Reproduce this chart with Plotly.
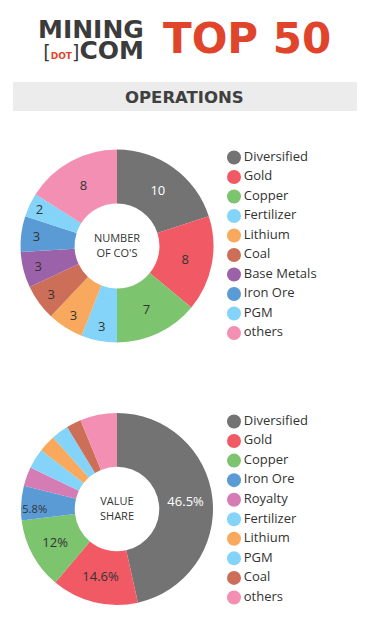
import plotly.graph_objects as go

# ---- data ----
ops_categories = ["Diversified", "Gold", "Copper", "Fertilizer", "Lithium", "Coal",
                  "Base Metals", "Iron Ore", "PGM", "others"]
ops_counts = [10, 8, 7, 3, 3, 3, 3, 3, 2, 8]

val_categories = ["Diversified", "Gold", "Copper", "Iron Ore", "Royalty", "Fertilizer",
                  "Lithium", "PGM", "Coal", "others"]
val_shares = [46.5, 14.6, 12, 5.8, 3.2, 3.4, 2.9, 2.9, 2.5, 6.2]
# slices whose share is printed on the donut
val_labeled = ["Diversified", "Gold", "Copper", "Iron Ore"]

colors = {
    "Diversified": "#737373", "Gold": "#f15a64", "Copper": "#7cc46d",
    "Fertilizer": "#84d4f9", "Lithium": "#f9a95d", "Coal": "#cd6f58",
    "Base Metals": "#9c62a9", "Iron Ore": "#5a9bd5", "PGM": "#84d4f9",
    "others": "#f38fb2", "Royalty": "#d57cb5",
}

W, H = 369, 644
FONT = "Open Sans"
TXT = "#333333"
LOGO_FONT = "DejaVu Sans"


def px_dom_x(a, b):
    return [a / W, b / W]


def px_dom_y(top, bottom):
    return [1 - bottom / H, 1 - top / H]


fig = go.Figure()

# ---- donut 1 ----
fig.add_trace(go.Pie(
    labels=ops_categories, values=ops_counts, sort=False, direction="clockwise",
    hole=0.44, marker=dict(colors=[colors[c] for c in ops_categories], line=dict(width=0)),
    textinfo="value", textposition="inside", insidetextorientation="horizontal",
    textfont=dict(family=FONT, size=13,
                  color=["white" if c == "Diversified" else TXT for c in ops_categories]),
    title=dict(text="NUMBER<br>OF CO'S", position="middle center",
               font=dict(family=FONT, size=11, color=TXT)),
    domain=dict(x=px_dom_x(20.5, 213.5), y=px_dom_y(149.5, 342.5)),
    showlegend=False, hoverinfo="label+value",
))

# ---- donut 2 ----
val_text = [f"{v:g}%" if c in val_labeled else "" for c, v in zip(val_categories, val_shares)]
fig.add_trace(go.Pie(
    labels=val_categories, values=val_shares, sort=False, direction="clockwise",
    hole=0.44, marker=dict(colors=[colors[c] for c in val_categories], line=dict(width=0)),
    text=val_text, textinfo="text", textposition="inside", insidetextorientation="horizontal",
    textfont=dict(family=FONT, size=13,
                  color=["white" if c == "Diversified" else TXT for c in val_categories]),
    title=dict(text="VALUE<br>SHARE", position="middle center",
               font=dict(family=FONT, size=11, color=TXT)),
    domain=dict(x=px_dom_x(21, 213), y=px_dom_y(413, 605)),
    showlegend=False, hoverinfo="label+value",
))

# ---- legends (circle markers) ----
def add_legend(cats, y0, step):
    ys = [y0 + i * step for i in range(len(cats))]
    fig.add_trace(go.Scatter(
        x=[234] * len(cats), y=ys, mode="markers+text",
        marker=dict(symbol="circle", size=14, color=[colors[c] for c in cats], line=dict(width=0)),
        text=cats, textposition="middle right",
        textfont=dict(family=FONT, size=13, color=TXT),
        showlegend=False, hoverinfo="skip", cliponaxis=False,
    ))

add_legend(ops_categories, 157.5, 19.5)
add_legend(val_categories, 421.5, 19.55)

logo_text = ("<span style='font-size:25px'><b>MINING</b></span><br>"
             "<span style='font-size:19px;font-weight:normal'>[</span>"
             "<span style='font-size:9px;color:#e0452b'><b>DOT</b></span>"
             "<span style='font-size:19px;font-weight:normal'>]</span>"
             "<span style='font-size:25px'><b>COM</b></span>")

fig.update_layout(
    width=W, height=H, margin=dict(l=0, r=0, t=0, b=0),
    paper_bgcolor="white", plot_bgcolor="white",
    xaxis=dict(range=[0, W], visible=False, domain=[0, 1], fixedrange=True),
    yaxis=dict(range=[H, 0], visible=False, domain=[0, 1], fixedrange=True),
    font=dict(family=FONT, color=TXT),
    shapes=[dict(type="rect", xref="paper", yref="paper",
                 x0=13 / W, x1=357 / W, y0=1 - 111 / H, y1=1 - 82 / H,
                 fillcolor="#ececec", line=dict(width=0), layer="below")],
    annotations=[
        dict(text=logo_text, x=91 / W, y=1 - 40 / H, xref="paper", yref="paper",
             xanchor="center", yanchor="middle", align="right", showarrow=False,
             font=dict(family=LOGO_FONT, size=16, color="#3b3b3b")),
        dict(text="<b>TOP 50</b>", x=246.5 / W, y=1 - 38.5 / H, xref="paper", yref="paper",
             xanchor="center", yanchor="middle", showarrow=False,
             font=dict(family=LOGO_FONT, size=42, color="#e0452b")),
        dict(text="<b>OPERATIONS</b>", x=184 / W, y=1 - 97 / H, xref="paper", yref="paper",
             xanchor="center", yanchor="middle", showarrow=False,
             font=dict(family=LOGO_FONT, size=16.5, color="#404040")),
    ],
)

fig.write_html("out.html", config={"displayModeBar": False},
               post_script="document.body.style.margin='0';")
